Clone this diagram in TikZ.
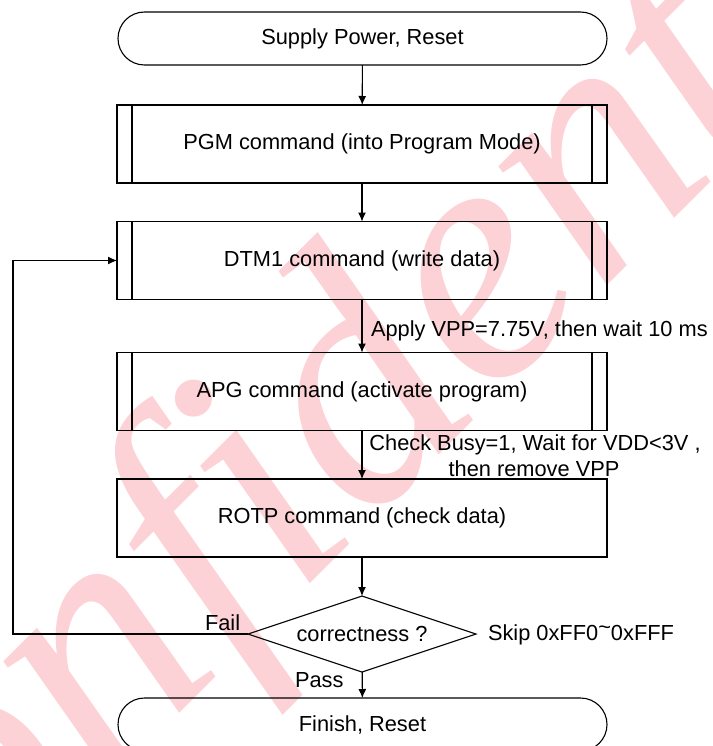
\documentclass[tikz,border=0pt]{standalone}
\usepackage{fontspec}
\setmainfont{Liberation Sans}
\newfontfamily\wmfont{Liberation Serif}
\usetikzlibrary{shapes.misc,shapes.geometric,arrows.meta}
\definecolor{wm}{RGB}{252,210,214}
\begin{document}
\begin{tikzpicture}[x=1pt,y=-1pt,
  font=\fontsize{21.8}{26}\selectfont,
  line width=1.1pt,
  term/.style={draw, rounded rectangle, minimum width=489pt, minimum height=53pt, inner sep=0pt, outer sep=0pt},
  box/.style={draw, rectangle, minimum width=490pt, minimum height=78pt, inner sep=0pt, outer sep=0pt},
  decide/.style={draw, diamond, aspect=3, minimum width=228pt, minimum height=76pt, inner sep=0pt, outer sep=0pt},
  lbl/.style={inner sep=0pt, outer sep=0pt},
  arr/.style={-{Latex[length=9pt,width=8pt]}}
]
\useasboundingbox (0,0) rectangle (712,746);
\clip (0,0) rectangle (712,746);
% watermark
\node[text=wm, rotate=45, font=\wmfont\itshape\fontsize{350}{350}\selectfont, inner sep=0pt] (wmark) at (373,399) {Confidential};
% nodes
\node[term] (start) at (362.5,38.5) {Supply Power, Reset};
\node[box] (pgm) at (362,144) {PGM command (into Program Mode)};
\node[box] (dtm) at (362,260.5) {DTM1 command (write data)};
\node[box] (apg) at (362,391.5) {APG command (activate program)};
\node[box] (rotp) at (362,518) {ROTP command (check data)};
\node[decide] (dec) at (362,634) {correctness ?};
\node[term] (fin) at (362.5,724.5) {Finish, Reset};
% subprocess inner lines
\foreach \n in {pgm,dtm,apg}{
  \draw ([xshift=15pt]\n.north west) -- ([xshift=15pt]\n.south west);
  \draw ([xshift=-15pt]\n.north east) -- ([xshift=-15pt]\n.south east);
}
% connectors
\draw[arr] (start) -- (pgm);
\draw[arr] (pgm) -- (dtm);
\draw[arr] (dtm) -- (apg);
\draw[arr] (apg) -- (rotp);
\draw[arr] (rotp) -- (dec);
\draw[arr] (dec) -- (fin);
\coordinate (loop) at (13,634);
\draw[arr] (dec.west) -- (loop) |- (dtm.west);
% labels
\node[lbl, anchor=base west] (l1) at (371,336) {Apply VPP=7.75V, then wait 10 ms};
\node[lbl, anchor=base] (l2) at (535,450) {Check Busy=1, Wait for VDD<3V ,};
\node[lbl, anchor=base] (l3) at (534,476) {then remove VPP};
\node[lbl, anchor=base west] (lfail) at (205,630) {Fail};
\node[lbl, anchor=base west] (lpass) at (295,687) {Pass};
\node[lbl, anchor=base west] (lskip) at (488,640) {Skip 0xFF0\raisebox{0.25em}{\textasciitilde}0xFFF};
\end{tikzpicture}
\end{document}
